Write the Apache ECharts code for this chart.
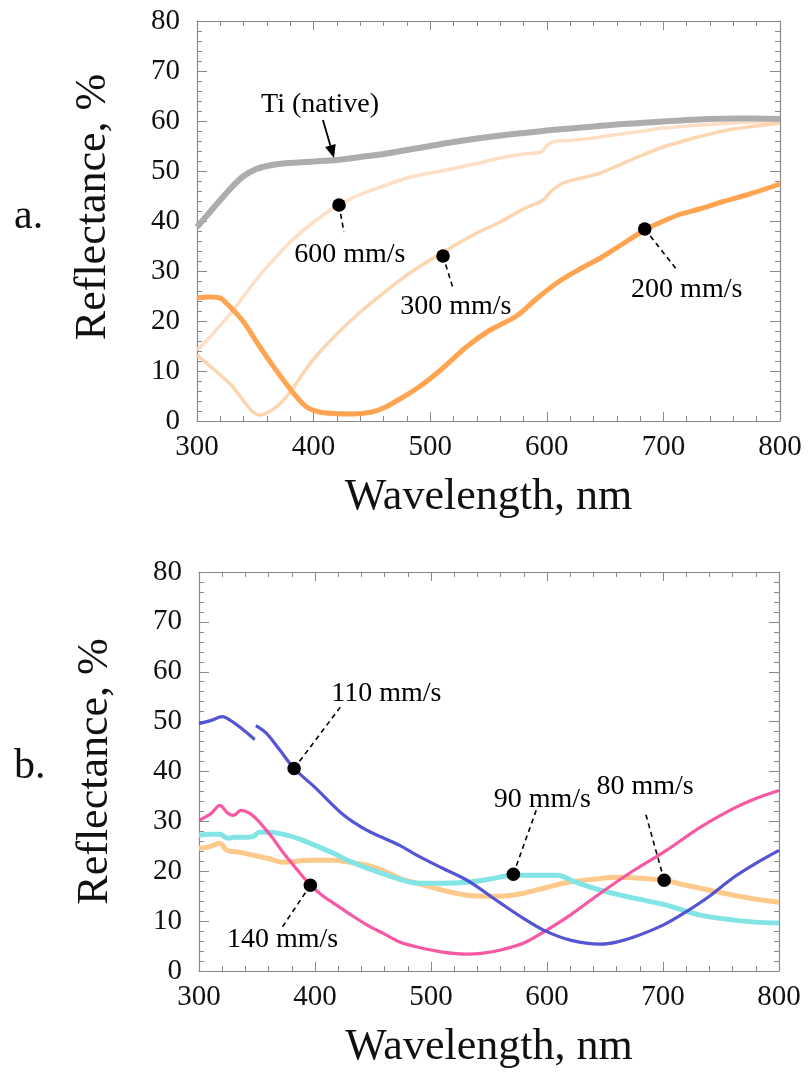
<!DOCTYPE html>
<html><head><meta charset="utf-8">
<script src="https://cdn.jsdelivr.net/npm/echarts@6/dist/echarts.min.js"></script>
<style>html,body{margin:0;padding:0;background:#fff}#c{width:809px;height:1086px}</style>
</head><body><div id="c"></div>
<script>
// ---------- Panel a ----------
const ti_wl = [300,310,320,330,340,350,360,370,380,400,420,440,460,480,500,520,540,560,580,600,620,640,660,680,700,720,740,760,780,800];
const ti_r  = [38.8,41.5,44.2,46.8,49.0,50.3,51.0,51.4,51.6,51.9,52.2,52.8,53.4,54.2,55.0,55.8,56.5,57.1,57.6,58.1,58.5,58.9,59.3,59.6,59.9,60.2,60.4,60.5,60.5,60.4];

const s600_wl = [300,310,320,330,340,350,360,380,400,420,440,460,480,500,520,540,560,580,595,600,605,620,640,660,680,700,720,740,760,780,800];
const s600_r  = [14.2,16.5,19.2,21.8,25.0,28.0,30.8,35.8,39.8,43.0,45.3,47.0,48.6,49.6,50.5,51.5,52.6,53.4,53.8,55.0,55.8,56.1,56.6,57.3,57.9,58.6,59.0,59.3,59.6,59.8,59.8];

const s300_wl = [300,310,320,330,340,348,354,360,370,380,390,400,420,440,460,480,500,520,540,560,580,597,603,614,630,646,660,680,700,720,740,760,780,800];
const s300_r  = [13.2,11.2,9.2,7.0,4.0,1.8,1.2,1.6,3.2,5.8,9.2,12.4,17.4,21.8,25.6,29.2,32.2,35.0,37.6,39.8,42.4,44.2,45.8,47.6,48.6,49.6,51.0,53.0,54.8,56.2,57.4,58.4,59.0,59.6];

const s200_wl = [300,310,320,325,331,340,354,364,374,384,394,405,417,434,450,460,474,491,510,531,550,574,592,611,630,646,665,684,700,715,731,750,774,800];
const s200_r  = [24.6,24.8,24.6,23.6,22.2,19.8,14.8,11.4,8.2,5.2,2.8,1.8,1.5,1.4,1.8,2.6,4.4,6.9,10.4,14.8,18.0,21.0,24.6,28.0,30.6,32.6,35.4,38.2,40.0,41.4,42.4,43.8,45.4,47.4];

// ---------- Panel b ----------
const s110_wl = [300,310,320,330,340,348,348.5,349,358,370,382,400,423,445,473,488,510,531,560,580,597,620,646,660,675,700,718,740,761,780,800];
const s110_r  = [49.6,50.2,51.0,49.8,48.0,46.4,null,49.2,47.7,44.2,40.6,36.8,31.6,28.2,25.2,23.2,20.6,18.2,13.6,10.5,8.2,6.2,5.4,5.8,6.8,9.2,11.6,15.0,18.8,21.6,24.2];

const s140_wl = [300,310,318,325,330,336,345,353,363,373,385,396,406,416,430,445,460,473,488,510,531,545,560,580,597,620,646,675,703,732,761,780,800];
const s140_r  = [30.2,31.5,33.2,31.6,31.2,32.2,31.4,29.6,26.8,23.6,20.2,17.2,15.2,13.6,11.4,9.2,7.4,5.8,4.8,3.8,3.4,3.6,4.2,5.6,7.8,11.2,15.6,20.2,24.2,28.8,32.6,34.6,36.2];

const s90_wl = [300,310,318,325,330,340,347,352,360,373,385,396,416,430,445,460,473,488,510,531,550,571,590,609,625,646,675,703,732,761,780,800];
const s90_r  = [27.2,27.4,27.4,26.6,26.8,26.8,27.0,27.8,27.8,27.4,26.6,25.6,23.6,22.0,20.6,19.4,18.4,17.6,17.6,17.8,18.4,19.2,19.2,19.2,17.8,16.2,14.6,13.2,11.2,10.2,9.8,9.6];

const s80_wl = [300,310,318,324,335,347,359,373,395,416,430,445,460,473,488,510,531,560,580,597,618,640,661,680,701,716,732,761,780,800];
const s80_r  = [24.6,25.0,25.6,24.2,23.8,23.2,22.6,21.8,22.2,22.2,21.8,21.2,20.0,18.6,17.6,16.2,15.2,15.0,15.6,16.6,17.8,18.4,18.8,18.6,18.2,17.4,16.6,15.2,14.4,13.8];

// ---------- axes ticks ----------
const xMin = 300, xMax = 800, xStep = 100;
const yMin = 0, yMax = 80, yStep = 10;

// ---------- annotations (data units) ----------
const aNoteText   = ['600 mm/s', '300 mm/s', '200 mm/s'];
const aNoteMarker = [[421.8, 43.2], [511, 33.0], [684, 38.4]];
const aNoteEnd    = [[426, 37.8], [519.5, 26.6], [711.7, 30.2]];
const aNoteLabel  = [[431, 33.2], [522, 22.8], [720, 26.2]];

const tiText = ['Ti (native)'];
const tiLabel = [[405.5, 63.2]];
const tiArrowFrom = [[408, 60.2]];
const tiArrowTo = [[417.5, 52.6]];

const bNoteText   = ['110 mm/s', '140 mm/s', '90 mm/s', '80 mm/s'];
const bNoteMarker = [[382, 40.6], [396, 17.2], [571, 19.4], [701, 18.2]];
const bNoteEnd    = [[421.8, 52.9], [371.8, 8.8], [590.8, 32.3], [684.6, 31.9]];
const bNoteLabel  = [[461.5, 55.7], [372, 6.2], [596, 34.3], [684.5, 36.9]];

// ---------- build ----------
const FONT = '"Liberation Serif", "Times New Roman", serif';
const frameColor = '#8a8a8a';
function pairs(w, r) { return w.map((x, i) => [x, r[i] === null ? '-' : r[i]]); }

function xAxes(grid) {
  const base = {
    type: 'value', gridIndex: grid, min: xMin, max: xMax, interval: xStep,
    splitLine: { show: false },
    axisLine: { show: true, onZero: false, lineStyle: { color: frameColor, width: 1.2 } },
    axisTick: { show: true, inside: true, length: 9, lineStyle: { color: frameColor } },
    minorTick: { show: true, splitNumber: 5, length: 5, lineStyle: { color: frameColor } }
  };
  return [
    Object.assign({}, base, { position: 'bottom',
      axisLabel: { show: true, margin: 12, fontFamily: FONT, fontSize: 29, color: '#111' },
      name: 'Wavelength, nm', nameLocation: 'middle', nameGap: 54,
      nameTextStyle: { fontFamily: FONT, fontSize: 44, color: '#111' } }),
    Object.assign({}, base, { position: 'top', axisLabel: { show: false } })
  ];
}
function yAxes(grid, padTop) {
  const base = {
    type: 'value', gridIndex: grid, min: yMin, max: yMax, interval: yStep,
    splitLine: { show: false },
    axisLine: { show: true, onZero: false, lineStyle: { color: frameColor, width: 1.2 } },
    axisTick: { show: true, inside: true, length: 10, lineStyle: { color: frameColor } },
    minorTick: { show: true, splitNumber: 5, length: 5, lineStyle: { color: frameColor } }
  };
  return [
    Object.assign({}, base, { position: 'left',
      axisLabel: { show: true, margin: 17, fontFamily: FONT, fontSize: 29, color: '#111' },
      name: 'Reflectance, %', nameLocation: 'middle', nameGap: 82, nameRotate: 90,
      nameTextStyle: { fontFamily: FONT, fontSize: 44, color: '#111', padding: [0, 0, 0, padTop] } }),
    Object.assign({}, base, { position: 'right', axisLabel: { show: false } })
  ];
}

function lineSeries(xi, yi, w, r, color, width, opacity, z) {
  return { type: 'line', xAxisIndex: xi, yAxisIndex: yi, data: pairs(w, r),
    showSymbol: false, symbol: 'none', smooth: 0.3, connectNulls: false, z: z || 2,
    lineStyle: { color: color, width: width, opacity: opacity }, silent: true, animation: false };
}

function noteSeries(xi, yi, texts, markers, ends, labels) {
  const data = markers.map((m, i) => [m[0], m[1], ends[i][0], ends[i][1], labels[i][0], labels[i][1]]);
  return { type: 'custom', xAxisIndex: xi, yAxisIndex: yi, data: data, clip: false, z: 10, silent: true, animation: false,
    renderItem: function (params, api) {
      const p = api.coord([api.value(0), api.value(1)]);
      const q = api.coord([api.value(2), api.value(3)]);
      const t = api.coord([api.value(4), api.value(5)]);
      return { type: 'group', children: [
        { type: 'line', shape: { x1: p[0], y1: p[1], x2: q[0], y2: q[1] }, style: { stroke: '#000', lineWidth: 1.6, lineDash: [5, 4] } },
        { type: 'circle', shape: { cx: p[0], cy: p[1], r: 6.8 }, style: { fill: '#000' } },
        { type: 'text', x: t[0], y: t[1], style: { text: texts[params.dataIndex], fill: '#000', font: '28px ' + FONT, align: 'center', verticalAlign: 'middle' } }
      ] };
    } };
}

function arrowSeries(xi, yi) {
  const data = tiLabel.map((l, i) => [tiArrowFrom[i][0], tiArrowFrom[i][1], tiArrowTo[i][0], tiArrowTo[i][1], l[0], l[1]]);
  return { type: 'custom', xAxisIndex: xi, yAxisIndex: yi, data: data, clip: false, z: 10, silent: true, animation: false,
    renderItem: function (params, api) {
      const p = api.coord([api.value(0), api.value(1)]);
      const q = api.coord([api.value(2), api.value(3)]);
      const t = api.coord([api.value(4), api.value(5)]);
      const dx = q[0] - p[0], dy = q[1] - p[1], L = Math.sqrt(dx * dx + dy * dy);
      const ux = dx / L, uy = dy / L, hl = 13, hw = 5.5;
      const bx = q[0] - ux * hl, by = q[1] - uy * hl;
      return { type: 'group', children: [
        { type: 'line', shape: { x1: p[0], y1: p[1], x2: bx, y2: by }, style: { stroke: '#000', lineWidth: 1.8 } },
        { type: 'polygon', shape: { points: [[q[0], q[1]], [bx - uy * hw, by + ux * hw], [bx + uy * hw, by - ux * hw]] }, style: { fill: '#000' } },
        { type: 'text', x: t[0], y: t[1], style: { text: tiText[params.dataIndex], fill: '#000', font: '28px ' + FONT, align: 'center', verticalAlign: 'middle' } }
      ] };
    } };
}

const chart = echarts.init(document.getElementById('c'), null, { renderer: 'canvas' });
chart.setOption({
  backgroundColor: '#fff',
  animation: false,
  grid: [
    { left: 197, right: 29, top: 21, height: 400 },
    { left: 199, right: 30, top: 572, height: 399 }
  ],
  xAxis: xAxes(0).concat(xAxes(1)),
  yAxis: yAxes(0, 28).concat(yAxes(1, 0)),
  graphic: [
    { type: 'text', left: 14, top: 196, style: { text: 'a.', font: '42px ' + FONT, fill: '#111' } },
    { type: 'text', left: 14, top: 746, style: { text: 'b.', font: '42px ' + FONT, fill: '#111' } }
  ],
  series: [
    lineSeries(0, 0, s600_wl, s600_r, '#fddcc0', 3.5, 0.9, 2),
    lineSeries(0, 0, s300_wl, s300_r, '#fcd0a8', 3.5, 0.9, 2),
    lineSeries(0, 0, ti_wl, ti_r, '#adadad', 6, 1, 3),
    lineSeries(0, 0, s200_wl, s200_r, '#ffa552', 5, 1, 4),
    arrowSeries(0, 0),
    noteSeries(0, 0, aNoteText, aNoteMarker, aNoteEnd, aNoteLabel),

    lineSeries(2, 2, s80_wl, s80_r, '#fdca8c', 5, 1, 2),
    lineSeries(2, 2, s90_wl, s90_r, '#82e4e4', 5, 1, 3),
    lineSeries(2, 2, s140_wl, s140_r, '#f5509c', 3.2, 0.95, 4),
    lineSeries(2, 2, s110_wl, s110_r, '#4b4bd2', 3.2, 0.95, 5),
    noteSeries(2, 2, bNoteText, bNoteMarker, bNoteEnd, bNoteLabel)
  ]
});
</script>
</body></html>
